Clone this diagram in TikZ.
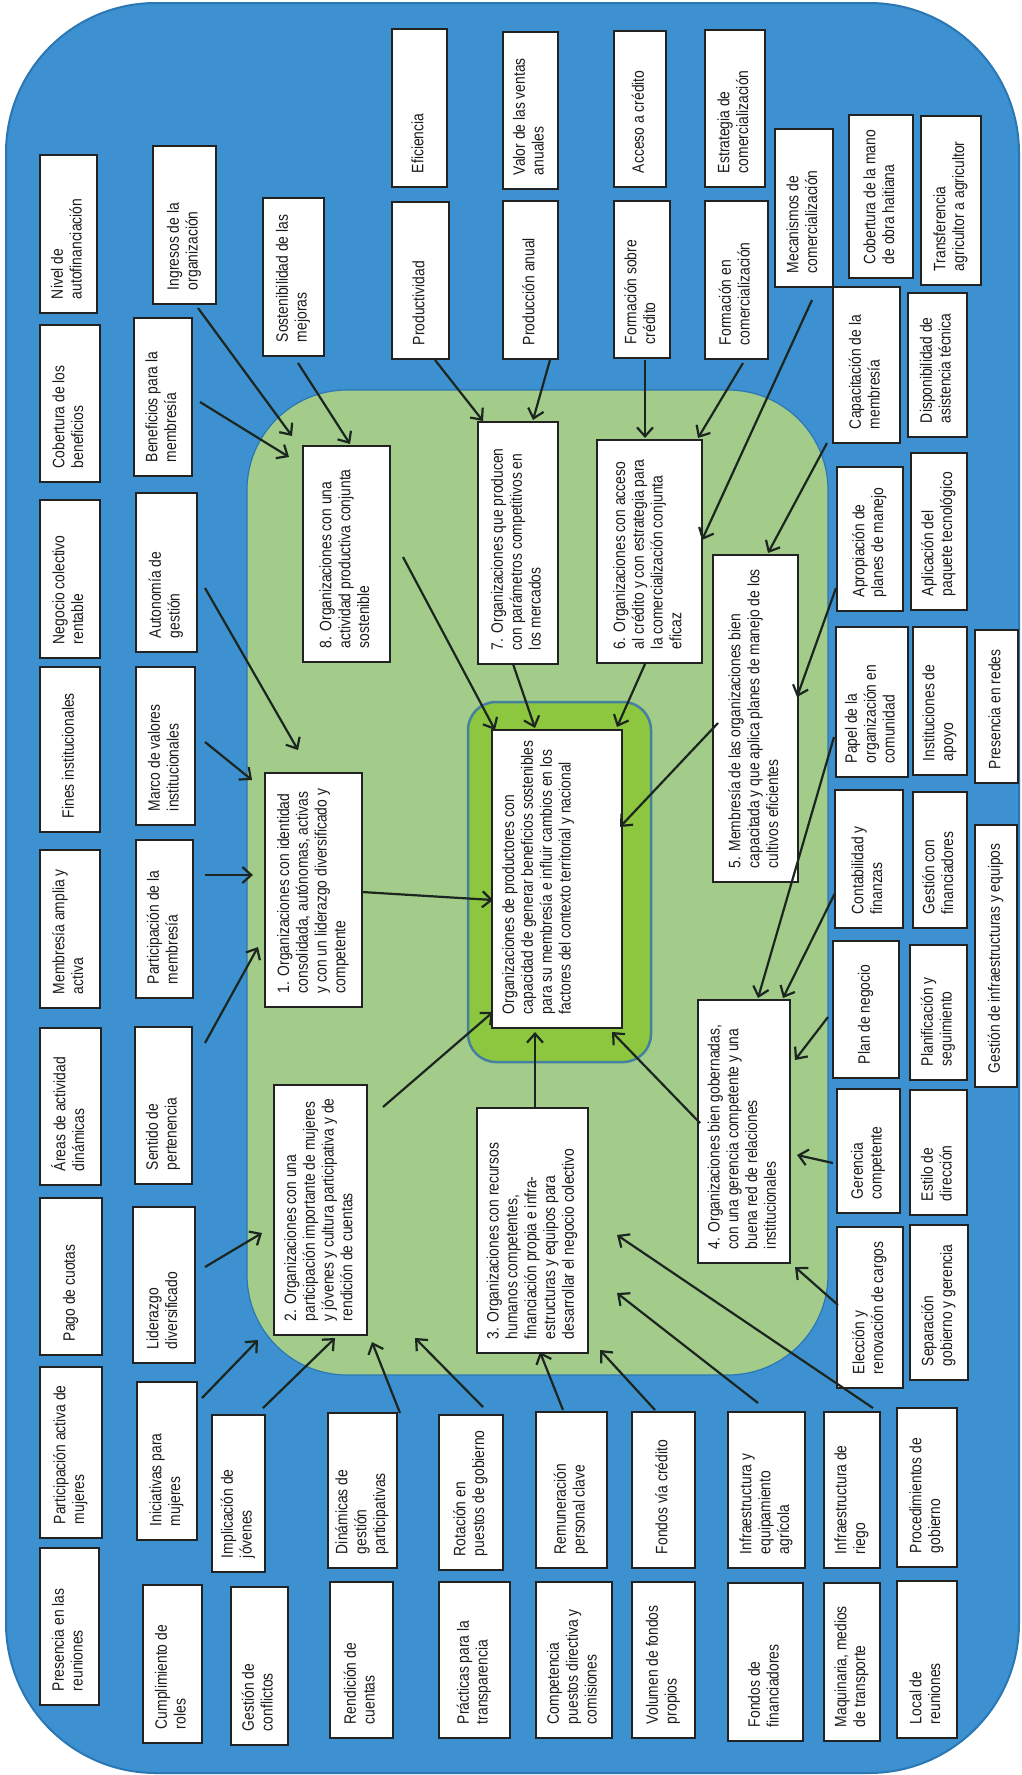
\documentclass[tikz,border=0pt]{standalone}
\usepackage{fontspec}
\setmainfont{Liberation Sans}[FakeStretch=0.84]
\usepackage{graphicx}
\usetikzlibrary{arrows.meta,calc}
\definecolor{outerblue}{HTML}{3D91D0}
\definecolor{outeredge}{HTML}{2A77B4}
\definecolor{lightgreen}{HTML}{A3CB8A}
\definecolor{darkgreen}{HTML}{8DC63F}
\definecolor{innerblue}{HTML}{45809F}
\definecolor{boxline}{HTML}{222222}
\definecolor{arrowcol}{HTML}{1C2620}
\definecolor{txt}{HTML}{1A1A1A}
\newcommand\mainfs{\fontsize{16.5}{18.8}\selectfont}
\tikzset{
  bx/.style={draw=boxline, line width=2.4pt, fill=white, inner sep=0pt, outer sep=0pt,
    anchor=north west, font=\mainfs, text=txt},
  arr/.style={draw=arrowcol, line width=2.2pt, -{Straight Barb[length=9pt,width=16pt]}},
}
\newcommand\bx[6]{%
  \node[bx, minimum width={#4-#2}, minimum height={#5-#3}] (#1) at (#2,#3)
   {\rotatebox{90}{\makebox[\dimexpr #5pt-#3pt-28pt\relax][l]{\begin{tabular}{@{}l@{}}#6\end{tabular}}}};}
\begin{document}
\begin{tikzpicture}[x=1pt,y=-1pt]
\useasboundingbox (0,0) rectangle (1021,1775);
\fill[white] (0,0) rectangle (1021,1775);
\draw[draw=outeredge, line width=2pt, fill=outerblue, rounded corners=150pt] (6,3) rectangle (1019,1773);
\draw[draw=outeredge, line width=1.2pt, fill=lightgreen, rounded corners=100pt] (247,390) rectangle (828,1375);
\draw[draw=innerblue, line width=2.5pt, fill=darkgreen, rounded corners=28pt] (468,702) rectangle (651,1062);

% column A
\bx{nivel}{40}{155}{97}{313}{Nivel de\\autofinanciación}
\bx{cobben}{40}{325}{100}{482}{Cobertura de los\\beneficios}
\bx{negocio}{40}{500}{100}{658}{Negocio colectivo\\rentable}
\bx{fines}{40}{667}{100}{832}{Fines institucionales}
\bx{membamp}{40}{850}{100}{1008}{Membresía amplia y\\activa}
\bx{areas}{40}{1028}{101}{1185}{Áreas de actividad\\dinámicas}
\bx{pago}{40}{1198}{102}{1355}{Pago de cuotas}
\bx{partmuj}{40}{1367}{102}{1538}{Participación activa de\\mujeres}
\bx{presreu}{40}{1548}{99}{1705}{Presencia en las\\reuniones}
% column B
\bx{ingresos}{153}{146}{216}{304}{Ingresos de la\\organización}
\bx{benef}{134}{318}{192}{476}{Beneficios para la\\membresía}
\bx{autonomia}{136}{493}{197}{652}{Autonomía de\\gestión}
\bx{marco}{136}{667}{195}{825}{Marco de valores\\institucionales}
\bx{partmemb}{136}{840}{193}{998}{Participación de la\\membresía}
\bx{sentido}{135}{1027}{192}{1184}{Sentido de\\pertenencia}
\bx{liderazgo}{133}{1207}{195}{1363}{Liderazgo\\diversificado}
\bx{iniciativas}{137}{1382}{197}{1540}{Iniciativas para\\mujeres}
\bx{cumplimiento}{143}{1585}{202}{1743}{Cumplimiento de\\roles}
\bx{sostenib}{263}{198}{324}{356}{Sostenibilidad de las\\mejoras}
% bottom rows
\bx{implicacion}{212}{1415}{265}{1572}{Implicación de\\jóvenes}
\bx{conflictos}{231}{1587}{288}{1745}{Gestión de\\conflictos}
\bx{dinamicas}{328}{1413}{397}{1568}{Dinámicas de\\gestión\\participativas}
\bx{rendicion}{330}{1582}{393}{1738}{Rendición de\\cuentas}
\bx{rotacion}{439}{1415}{503}{1570}{Rotación en\\puestos de gobierno}
\bx{practicas}{439}{1582}{510}{1738}{Prácticas para la\\transparencia}
\bx{remuneracion}{536}{1412}{607}{1568}{Remuneración\\personal clave}
\bx{competencia}{536}{1582}{612}{1738}{Competencia\\puestos directiva y\\comisiones}
\bx{fondoscred}{632}{1412}{695}{1568}{Fondos vía crédito}
\bx{volumen}{632}{1582}{695}{1738}{Volumen de fondos\\propios}
\bx{infraeq}{728}{1412}{805}{1568}{Infraestructura y\\equipamiento\\agrícola}
\bx{fondosfin}{728}{1583}{803}{1741}{Fondos de\\financiadores}
\bx{riego}{824}{1412}{880}{1568}{Infraestructura de\\riego}
\bx{maquinaria}{824}{1583}{880}{1741}{Maquinaria, medios\\de transporte}
\bx{procedimientos}{897}{1408}{957}{1567}{Procedimientos de\\gobierno}
\bx{local}{897}{1581}{957}{1738}{Local de\\reuniones}
% top rows
\bx{eficiencia}{392}{29}{447}{187}{Eficiencia}
\bx{productividad}{392}{202}{449}{359}{Productividad}
\bx{valor}{503}{32}{558}{189}{Valor de las ventas\\anuales}
\bx{produccion}{503}{201}{558}{359}{Producción anual}
\bx{acceso}{614}{31}{666}{187}{Acceso a crédito}
\bx{formcred}{614}{201}{670}{358}{Formación sobre\\crédito}
\bx{estrategia}{705}{30}{765}{187}{Estrategia de\\comercialización}
\bx{formcom}{705}{201}{768}{359}{Formación en\\comercialización}
\bx{mecanismos}{775}{129}{833}{287}{Mecanismos de\\comercialización}
\bx{cobmano}{849}{115}{913}{278}{Cobertura de la mano\\de obra haitiana}
\bx{transferencia}{921}{116}{981}{285}{Transferencia\\agricultor a agricultor}
\bx{capacitacion}{833}{287}{900}{443}{Capacitación de la\\membresía}
\bx{disponibilidad}{908}{293}{967}{437}{Disponibilidad de\\asistencia técnica}
% right columns
\bx{apropiacion}{837}{467}{903}{611}{Apropiación de\\planes de manejo}
\bx{aplicacion}{911}{453}{967}{610}{Aplicación del\\paquete tecnológico}
\bx{papel}{836}{627}{908}{777}{Papel de la\\organización en\\comunidad}
\bx{instituciones}{913}{627}{967}{775}{Instituciones de\\apoyo}
\bx{redes}{975}{630}{1018}{783}{Presencia en redes}
\bx{contabilidad}{835}{790}{903}{928}{Contabilidad y\\finanzas}
\bx{gestfin}{913}{792}{967}{928}{Gestión con\\financiadores}
\bx{gestinfra}{975}{825}{1017}{1087}{Gestión de infraestructuras y equipos}
\bx{plan}{833}{941}{899}{1078}{Plan de negocio}
\bx{planificacion}{910}{945}{967}{1080}{Planificación y\\seguimiento}
\bx{gerencia}{837}{1089}{900}{1213}{Gerencia\\competente}
\bx{estilo}{910}{1090}{967}{1215}{Estilo de\\dirección}
\bx{eleccion}{837}{1227}{903}{1388}{Elección y\\renovación de cargos}
\bx{separacion}{910}{1225}{968}{1380}{Separación\\gobierno y gerencia}
% main boxes
\bx{bone}{265}{773}{362}{1007}{1. Organizaciones con identidad\\consolidada, autónomas, activas\\y con un liderazgo diversificado y\\competente}
\bx{btwo}{274}{1085}{367}{1335}{2. Organizaciones con una\\participación importante de mujeres\\y jóvenes y cultura participativa y de\\rendición de cuentas}
\bx{bthree}{477}{1108}{588}{1353}{3. Organizaciones con recursos\\humanos competentes,\\financiación propia e infra-\\estructuras y equipos para\\desarrollar el negocio colectivo}
\bx{bfour}{698}{1000}{790}{1263}{4. Organizaciones bien gobernadas,\\con una gerencia competente y una\\buena red de relaciones\\institucionales}
\bx{bfive}{713}{555}{798}{882}{5. Membresía de las organizaciones bien\\capacitada y que aplica planes de manejo de los\\cultivos eficientes}
\bx{bsix}{597}{440}{702}{663}{6. Organizaciones con acceso\\al crédito y con estrategia para\\la comercialización conjunta\\eficaz}
\bx{bseven}{478}{422}{558}{664}{7. Organizaciones que producen\\con parámetros competitivos en\\los mercados}
\bx{beight}{303}{446}{390}{662}{8. Organizaciones con una\\actividad productiva conjunta\\sostenible}
\node[bx, minimum width=130, minimum height=298] (goal) at (492,730)
  {\rotatebox{90}{\begin{minipage}[c][112pt][t]{270pt}\begin{tabular}[t]{@{}l@{}}Organizaciones de productores con\\capacidad de generar beneficios sostenibles\\para su membresía e influir cambios en los\\factores del contexto territorial y nacional\end{tabular}\end{minipage}}};

% arrows
\draw[arr] ($(ingresos.north west)+(45,162)$) -- ($(beight.north west)+(-11,-10)$);
\draw[arr] ($(benef.north west)+(66,84)$) -- ($(beight.north west)+(-14,11)$);
\draw[arr] ($(sostenib.north west)+(35,165)$) -- ($(beight.north west)+(47,-2)$);
\draw[arr] ($(autonomia.north west)+(69,95)$) -- ($(bone.north west)+(33,-23)$);
\draw[arr] ($(marco.north west)+(69,75)$) -- ($(bone.north west)+(-13,7)$);
\draw[arr] ($(partmemb.north west)+(69,35)$) -- ($(bone.north west)+(-12,102)$);
\draw[arr] ($(sentido.north west)+(70,16)$) -- ($(bone.north west)+(-7,174)$);
\draw[arr] ($(liderazgo.north west)+(72,60)$) -- ($(btwo.north west)+(-12,148)$);
\draw[arr] ($(iniciativas.north west)+(65,16)$) -- ($(btwo.north west)+(-16,255)$);
\draw[arr] ($(implicacion.north west)+(51,-7)$) -- ($(btwo.north west)+(61,253)$);
\draw[arr] ($(dinamicas.north west)+(72,0)$) -- ($(btwo.north west)+(98,257)$);
\draw[arr] ($(rotacion.north west)+(44,-8)$) -- ($(btwo.north west)+(141,253)$);
\draw[arr] ($(remuneracion.north west)+(27,-2)$) -- ($(bthree.north west)+(63,244)$);
\draw[arr] ($(fondoscred.north west)+(23,-2)$) -- ($(bthree.north west)+(123,242)$);
\draw[arr] ($(infraeq.north west)+(30,-9)$) -- ($(bthree.north west)+(140,185)$);
\draw[arr] ($(riego.north west)+(49,-4)$) -- ($(bthree.north west)+(140,127)$);
\draw[arr] ($(bone.north west)+(97,119)$) -- ($(goal.north west)+(1,170)$);
\draw[arr] ($(btwo.north west)+(109,22)$) -- ($(goal.north west)+(1,282)$);
\draw[arr] ($(bthree.north west)+(58,0)$) -- ($(goal.north west)+(43,302)$);
\draw[arr] ($(bfour.north west)+(2,123)$) -- ($(goal.north west)+(120,302)$);
\draw[arr] ($(bfive.north west)+(5,168)$) -- ($(goal.north west)+(128,97)$);
\draw[arr] ($(bsix.north west)+(48,224)$) -- ($(goal.north west)+(125,-3)$);
\draw[arr] ($(bseven.north west)+(35,242)$) -- ($(goal.north west)+(43,-2)$);
\draw[arr] ($(beight.north west)+(100,111)$) -- ($(goal.north west)+(3,0)$);
\draw[arr] ($(productividad.north west)+(43,158)$) -- ($(bseven.north west)+(5,-1)$);
\draw[arr] ($(produccion.north west)+(47,159)$) -- ($(bseven.north west)+(55,-2)$);
\draw[arr] ($(formcred.north west)+(31,159)$) -- ($(bsix.north west)+(48,-2)$);
\draw[arr] ($(formcom.north west)+(38,162)$) -- ($(bsix.north west)+(101,-2)$);
\draw[arr] ($(mecanismos.north west)+(37,171)$) -- ($(bsix.north west)+(105,100)$);
\draw[arr] ($(capacitacion.north west)+(-6,156)$) -- ($(bfive.north west)+(55,-2)$);
\draw[arr] ($(apropiacion.north west)+(-1,121)$) -- ($(bfive.north west)+(84,142)$);
\draw[arr] ($(papel.north west)+(-2,110)$) -- ($(bfour.north west)+(60,-2)$);
\draw[arr] ($(contabilidad.north west)+(0,103)$) -- ($(bfour.north west)+(85,-2)$);
\draw[arr] ($(plan.north west)+(-5,76)$) -- ($(bfour.north west)+(97,60)$);
\draw[arr] ($(gerencia.north west)+(-4,74)$) -- ($(bfour.north west)+(99,155)$);
\draw[arr] ($(eleccion.north west)+(1,78)$) -- ($(bfour.north west)+(97,267)$);
\end{tikzpicture}
\end{document}
